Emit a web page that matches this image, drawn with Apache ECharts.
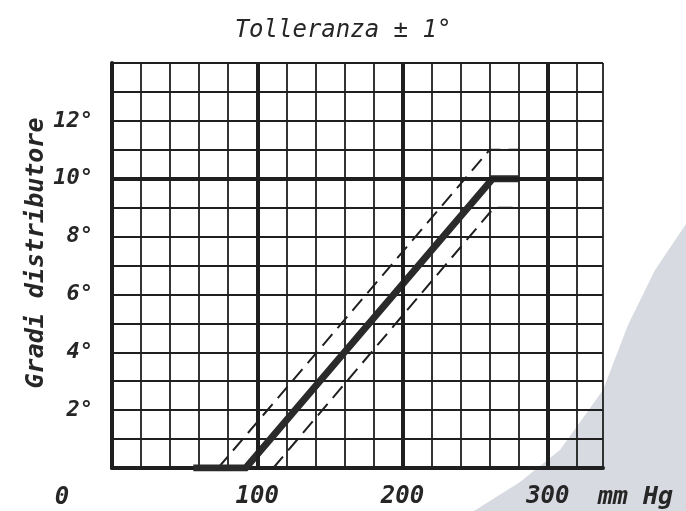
<!DOCTYPE html>
<html>
<head>
<meta charset="utf-8">
<script src="https://cdn.jsdelivr.net/npm/echarts@6/dist/echarts.min.js"></script>
<style>
  html, body { margin: 0; padding: 0; background: #ffffff; }
  #chart { width: 686px; height: 511px; }
</style>
</head>
<body>
<div id="chart"></div>
<script>
// Distributor advance (degrees) against manifold vacuum (mmHg), nominal curve with ±1° band
const nominalCurve   = [[56, 0], [92, 0], [262, 10], [280, 10]];
const upperTolerance = [[73, 0], [260, 11], [280, 11]];
const lowerTolerance = [[111, 0], [263, 9], [280, 9]];

// Axis ranges and labelled ticks
const xRange = [0, 338];
const yRange = [0, 14];
const xTickValues = [100, 200, 300];
const yTickValues = [2, 4, 6, 8, 10, 12];
const xMajorLines = [100, 200, 300];
const yMajorLines = [10];

const INK = '#1f1f1f';
const TEXT = '#262626';
const FONT = 'DejaVu Sans Mono';

const chart = echarts.init(document.getElementById('chart'), null, { renderer: 'canvas' });

const textStyle = (size, weight) => ({
  fontFamily: FONT, fontStyle: 'italic', fontWeight: weight || 'normal', fontSize: size, fill: TEXT
});

const option = {
  backgroundColor: '#ffffff',
  animation: false,
  grid: { left: 112, right: 83, top: 63, bottom: 43, containLabel: false },
  xAxis: {
    type: 'value', min: xRange[0], max: xRange[1], interval: 20,
    axisLine: { show: true, onZero: false, lineStyle: { color: INK, width: 4 } },
    axisTick: { show: false },
    splitLine: { show: true, lineStyle: { color: INK, width: 1.8 } },
    axisLabel: {
      margin: 17,
      fontFamily: FONT, fontStyle: 'italic', fontWeight: 'bold', fontSize: 24, color: TEXT,
      formatter: v => (xTickValues.includes(v) ? String(v) : '')
    }
  },
  yAxis: {
    type: 'value', min: yRange[0], max: yRange[1], interval: 1,
    axisLine: { show: true, onZero: false, lineStyle: { color: INK, width: 4 } },
    axisTick: { show: false },
    splitLine: { show: true, lineStyle: { color: INK, width: 1.8 } },
    axisLabel: {
      margin: 19,
      fontFamily: FONT, fontStyle: 'italic', fontWeight: 'bold', fontSize: 22, color: TEXT,
      formatter: v => (yTickValues.includes(v) ? v + '°' : '')
    }
  },
  series: [
    {
      name: 'major grid', type: 'line', data: [], silent: true,
      markLine: {
        silent: true, symbol: 'none', label: { show: false },
        lineStyle: { color: INK, width: 4, type: 'solid' },
        data: xMajorLines.map(v => ({ xAxis: v }))
          .concat(yMajorLines.map(v => ({ yAxis: v })))
      }
    },
    {
      name: 'upper', type: 'line', data: upperTolerance, showSymbol: false, silent: true,
      lineStyle: { color: INK, width: 2, type: [15, 8] }
    },
    {
      name: 'lower', type: 'line', data: lowerTolerance, showSymbol: false, silent: true,
      lineStyle: { color: INK, width: 2, type: [15, 8] }
    },
    {
      name: 'nominal', type: 'line', data: nominalCurve, showSymbol: false, silent: true,
      lineStyle: { color: '#2a2a2a', width: 7, cap: 'butt', join: 'miter' }
    }
  ]
};

chart.setOption(option);

// Free texts: title, vertical axis title, origin label and unit
const origin = chart.convertToPixel({ xAxisIndex: 0, yAxisIndex: 0 }, [0, 0]);
const x300 = chart.convertToPixel({ xAxisIndex: 0 }, 300);

chart.setOption({
  graphic: [
    {
      type: 'polygon', z: -100, silent: true,
      shape: { points: [[686, 224], [655, 270], [628, 325], [603, 390], [560, 450], [520, 482], [474, 511], [686, 511]] },
      style: { fill: '#d8dae1' }
    },
    {
      type: 'text', left: 'center', top: 19,
      style: Object.assign(textStyle(24), { text: 'Tolleranza ± 1°' })
    },
    {
      type: 'text', x: 36, y: 253, rotation: Math.PI / 2,
      style: Object.assign(textStyle(25, 'bold'), { text: 'Gradi distributore', align: 'center', verticalAlign: 'middle' })
    },
    {
      type: 'text', x: origin[0] - 50, y: origin[1] + 30,
      style: Object.assign(textStyle(24, 'bold'), { text: '0', align: 'center', verticalAlign: 'middle' })
    },
    {
      type: 'text', x: x300 + 50, y: origin[1] + 29,
      style: Object.assign(textStyle(25, 'bold'), { text: 'mm Hg', align: 'left', verticalAlign: 'middle' })
    }
  ]
});
</script>
</body>
</html>
